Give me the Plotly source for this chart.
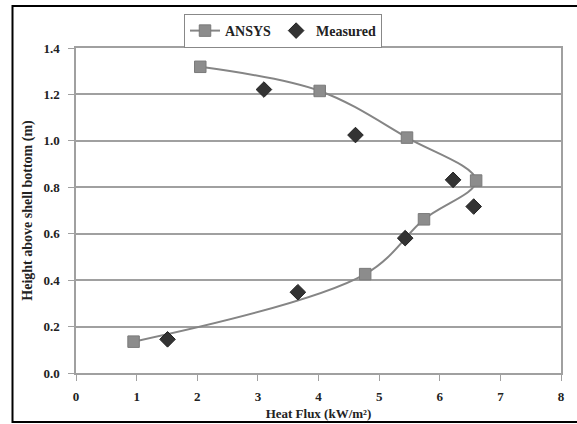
import plotly.graph_objects as go

# ANSYS simulation (ordered from bottom to top of the tank shell)
ansys_flux = [0.95, 4.77, 5.74, 6.60, 5.46, 4.02, 2.05]
ansys_height = [0.135, 0.426, 0.662, 0.829, 1.014, 1.215, 1.319]

# Measured values
meas_flux = [1.51, 3.66, 5.43, 6.56, 6.22, 4.61, 3.10]
meas_height = [0.145, 0.348, 0.581, 0.717, 0.832, 1.025, 1.221]

x_ticks = [0, 1, 2, 3, 4, 5, 6, 7, 8]
y_ticks = [0.0, 0.2, 0.4, 0.6, 0.8, 1.0, 1.2, 1.4]

FONT = "Liberation Serif"
W, H = 577, 424
L, R, T, B = 76, 16, 48, 51
PW, PH = W - L - R, H - T - B

fig = go.Figure()
fig.add_trace(go.Scatter(
    x=ansys_flux, y=ansys_height, name="<b>ANSYS</b>",
    mode="lines+markers",
    line=dict(color="#858585", width=2, shape="spline", smoothing=1.0),
    marker=dict(symbol="square", size=11.5, color="#8c8c8c",
                line=dict(color="#7a7a7a", width=1)),
))
fig.add_trace(go.Scatter(
    x=meas_flux, y=meas_height, name="<b>Measured</b>",
    mode="markers",
    marker=dict(symbol="diamond", size=12, color="#333333",
                line=dict(color="#222222", width=1)),
))

axis_common = dict(
    showline=True, linecolor="#a0a0a0", linewidth=1.5, mirror=True,
    ticks="outside", ticklen=6, tickcolor="#a0a0a0", tickwidth=1.2,
    tickfont=dict(family=FONT, size=13, color="#222222"),
    zeroline=False, automargin=False,
)

fig.update_xaxes(
    range=[0, 8], tickvals=x_ticks, ticktext=[f"<b>{v}</b>" for v in x_ticks],
    showgrid=False, ticklabelstandoff=5,
    title=dict(text="<b>Heat Flux (kW/m²)</b>",
               font=dict(family=FONT, size=13, color="#222222"), standoff=6),
    **axis_common,
)
fig.update_yaxes(
    range=[0, 1.4], tickvals=y_ticks, ticktext=[f"<b>{v:.1f}</b>" for v in y_ticks],
    showgrid=True, gridcolor="#a0a0a0", gridwidth=1.5, ticklabelstandoff=6,
    title=dict(text="<b>Height above shell bottom (m)</b>",
               font=dict(family=FONT, size=14, color="#222222"), standoff=8),
    **axis_common,
)

fig.update_layout(
    width=W, height=H,
    margin=dict(l=L, r=R, t=T, b=B, pad=0),
    paper_bgcolor="white", plot_bgcolor="white",
    showlegend=True,
    legend=dict(
        orientation="h", x=(283 - L) / PW, xanchor="center",
        y=1 + (T - 14) / PH, yanchor="top",
        bordercolor="#888888", borderwidth=1, bgcolor="white",
        font=dict(family=FONT, size=14, color="#222222"),
        itemwidth=30, tracegroupgap=0,
    ),
    shapes=[dict(
        type="rect", xref="paper", yref="paper",
        x0=(12.5 - L) / PW, x1=(590 - L) / PW,
        y0=(H - B - 422) / PH, y1=1 + (T - 6) / PH,
        line=dict(color="black", width=2), layer="below",
    )],
)

fig.write_html(
    "out.html",
    config={"displayModeBar": False},
    post_script="document.body.style.margin='0';document.body.style.overflow='hidden';",
)
